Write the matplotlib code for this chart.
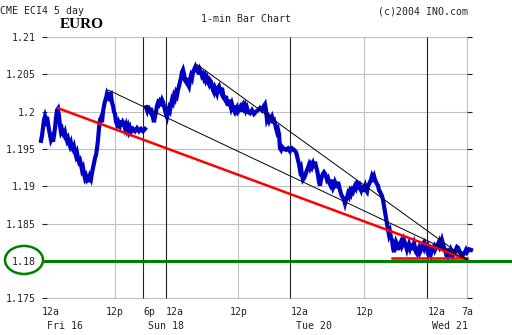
import matplotlib
matplotlib.use("Agg")
import matplotlib.pyplot as plt
from matplotlib.patches import Ellipse
import numpy as np

# ---- data (x = compressed 1-min bar position, y = EUR price) ----
seg1_x = [41,42,43,44,45,46,47,48,49,50,51,52,53,54,55,56,57,58,59,60,61,62,63,64,65,66,67,68,69,70,
          71,72,73,74,75,76,77,78,79,80,81,82,83,84,85,86,87,88,89,90,91,92,93,94,95,96,97,98,99,100,
          101,102,103,104,105,106,107,108,109,110,111,112,113,114,115,116,117,118,119,120,121,122,123,124,
          125,126,127,128,129,130,131,133,135,137,139,141,143,145]
seg1_y = [1.1961,1.1968,1.1978,1.1989,1.1994,1.1989,1.1993,1.1984,1.1976,1.1969,1.1962,1.1965,1.1960,1.1968,
          1.1978,1.1992,1.2002,1.2004,1.1994,1.1981,1.1973,1.1976,1.1970,1.1968,1.1972,1.1965,1.1961,1.1964,
          1.1958,1.1954,1.1958,1.1951,1.1949,1.1953,1.1946,1.1941,1.1945,1.1938,1.1933,1.1935,1.1929,1.1922,
          1.1925,1.1917,1.1911,1.1914,1.1909,1.1911,1.1906,1.1913,1.1910,1.1918,1.1925,1.1931,1.1938,1.1942,
          1.1951,1.1962,1.1978,1.1989,1.1992,1.1986,1.2000,1.2008,1.2014,1.2018,1.2024,1.2021,1.2026,1.2020,
          1.2022,1.2012,1.2008,1.2000,1.1997,1.1986,1.1984,1.1978,1.1985,1.1982,1.1988,1.1981,1.1986,1.1984,
          1.1978,1.1982,1.1976,1.1980,1.1974,1.1978,1.1973,1.1977,1.1974,1.1978,1.1974,1.1977,1.1974,1.1977]

seg2_x = [146,147,148,149,150,151,152,153,154,155,156,157,158,159,160,161,162,163,164,165,166,167,168,169,170,
          171,172,173,174,175,176,177,178,179,180,181,182,183,184,185,186,187,188,189,190,191,192,193,194,195,
          196,197,198,199,200,201,202,203,204,205,206,207,208,209,210,211,212,213,214,215,216,217,218,219,220,
          221,222,223,224,225,226,227,228,229,230,231,232,233,234,235,236,237,238,239,240,241,242,243,244,245,
          246,247,248,250,252,254,256,258,260,262,264,265,266,267,268,269,270,271,272,273,274,275,276,277,278,
          279,280,281,282,284,286,288,290,292,294,296,297,298,299,300,301,302,303,304,305,306,307,308,309,310,
          311,312,313,314,315,316,317,318,319,320,321,322,323,324,325,326,327,328,329,330,331,332,333,334,335,
          336,337,338,339,340,341,342,343,344,345,346,347,348,349,350,351,352,353,354,355,356,357,358,359,360,
          361,362,363,364,365,366,367,368,369,370,371,372,373,374,375,376,377,378,379,380,381,382,383,384,385,
          386,387,388,389,390,391,392,393,394,395,396,397,398,399,400,401,402,403,404,405,406,407,408,409,410,
          411,412,413,414,415,416,417,418,419,420,421,422,423,424,425,426,427,428,429,430,431,432,433,434,435,
          436,437,438,439,440,441,442,443,444,445,446,447,448,449,450,451,452,453,454,455,456,457,458,459,460,
          461,462,463,464,465,466,467,469,471]
seg2_y = [1.2006,1.2002,1.2008,1.2002,1.2000,1.2005,1.1997,1.1992,1.1986,1.1994,1.2000,1.2008,1.2012,1.2010,1.2014,
          1.2012,1.2016,1.2013,1.2008,1.2002,1.1997,1.1993,1.2000,1.2005,1.2002,1.2010,1.2016,1.2013,1.2021,1.2018,
          1.2025,1.2022,1.2029,1.2034,1.2040,1.2045,1.2053,1.2056,1.2050,1.2042,1.2040,1.2045,1.2037,1.2034,1.2042,
          1.2048,1.2045,1.2053,1.2056,1.2059,1.2053,1.2061,1.2056,1.2050,1.2056,1.2053,1.2048,1.2050,1.2045,1.2048,
          1.2042,1.2045,1.2040,1.2037,1.2042,1.2040,1.2034,1.2029,1.2026,1.2032,1.2029,1.2025,1.2032,1.2034,1.2029,
          1.2026,1.2032,1.2024,1.2018,1.2016,1.2021,1.2013,1.2008,1.2016,1.2010,1.2005,1.2010,1.2005,1.2002,1.2008,
          1.2002,1.2005,1.2000,1.2002,1.2005,1.2000,1.2008,1.2010,1.2005,1.2008,1.2002,1.2005,1.2000,1.1998,1.2002,
          1.1997,1.2000,1.2002,1.2005,1.2002,1.2008,1.2010,1.2002,1.1989,1.1992,1.1988,1.1992,1.1990,1.1993,1.1988,
          1.1989,1.1984,1.1978,1.1973,1.1976,1.1970,1.1951,1.1949,1.1953,1.1950,1.1949,1.1951,1.1947,1.1951,1.1949,
          1.1946,1.1941,1.1935,1.1930,1.1922,1.1925,1.1915,1.1909,1.1911,1.1914,1.1918,1.1922,1.1925,1.1929,1.1925,
          1.1929,1.1926,1.1930,1.1925,1.1933,1.1927,1.1922,1.1915,1.1906,1.1901,1.1909,1.1914,1.1917,1.1919,1.1917,
          1.1914,1.1909,1.1911,1.1906,1.1903,1.1909,1.1903,1.1898,1.1901,1.1906,1.1903,1.1898,1.1906,1.1901,1.1895,
          1.1890,1.1887,1.1885,1.1882,1.1877,1.1882,1.1885,1.1890,1.1887,1.1893,1.1890,1.1895,1.1893,1.1898,1.1901,
          1.1898,1.1903,1.1901,1.1906,1.1898,1.1895,1.1901,1.1893,1.1898,1.1901,1.1895,1.1893,1.1901,1.1903,1.1906,
          1.1909,1.1914,1.1911,1.1914,1.1909,1.1906,1.1903,1.1901,1.1895,1.1893,1.1890,1.1887,1.1882,1.1874,1.1866,
          1.1858,1.1850,1.1842,1.1835,1.1839,1.1831,1.1828,1.1818,1.1812,1.1820,1.1826,1.1823,1.1815,1.1820,1.1823,
          1.1826,1.1820,1.1823,1.1828,1.1824,1.1820,1.1815,1.1819,1.1823,1.1818,1.1823,1.1815,1.1820,1.1824,1.1818,
          1.1812,1.1810,1.1815,1.1818,1.1812,1.1815,1.1819,1.1822,1.1818,1.1823,1.1820,1.1815,1.1818,1.1812,1.1815,
          1.1810,1.1815,1.1818,1.1820,1.1815,1.1818,1.1820,1.1823,1.1820,1.1826,1.1823,1.1828,1.1823,1.1818,1.1815,
          1.1810,1.1812,1.1808,1.1812,1.1810,1.1815,1.1812,1.1808,1.1811,1.1812,1.1816,1.1819,1.1818,1.1815,1.1812,
          1.1810,1.1807,1.1808,1.1811,1.1812,1.1815,1.1812,1.1816,1.1815]

# trend lines (start/end points)
red_trend_x = [58.3, 467.0]
red_trend_y = [1.20046, 1.18023]
red_flat_x = [391.7, 467.0]
red_flat_y = [1.18039, 1.18039]
black1_x = [108.3, 467.0]
black1_y = [1.2029, 1.18023]
black2_x = [196.7, 467.0]
black2_y = [1.20635, 1.18023]
support_level = 1.18
support_x = [43, 512]

# axis ticks / labels
y_ticks = [1.175, 1.18, 1.185, 1.19, 1.195, 1.2, 1.205, 1.21]
y_labels = ["1.175", "1.18", "1.185", "1.19", "1.195", "1.2", "1.205", "1.21"]
time_pos = [42, 114.7, 143.3, 166, 238.3, 290.3, 364.3, 427.3, 467.3]
time_labels = ["12a", "12p", "6p", "12a", "12p", "12a", "12p", "12a", "7a"]
time_align = ["left", "center", "left", "left", "center", "left", "center", "left", "center"]
day_pos = [65, 166.5, 313.5, 450.5]
day_labels = ["Fri 16", "Sun 18", "Tue 20", "Wed 21"]
gray_vlines = [114.7, 238.3, 364.3, 467.3]
black_vlines = [143.3, 166, 290.3, 427.3]

MONO = "DejaVu Sans Mono"
TXT = "#222222"
BLUE = "#0000c4"
GREEN = "#008000"

fig = plt.figure(figsize=(5.12, 3.35), dpi=100)
fig.patch.set_facecolor("white")
ax = fig.add_axes([47/512, (335-298.5)/335, 420.3/512, 261.5/335])
ax.set_xlim(47, 467.3)
ax.set_ylim(1.175, 1.21)
for s in ax.spines.values():
    s.set_visible(False)
ax.set_facecolor("none")

ax.hlines(y_ticks, 47, 467.3, color="#c0c0c0", lw=0.8, clip_on=False, zorder=1)
ax.vlines(gray_vlines, 1.175, 1.21, color="#c0c0c0", lw=0.8, clip_on=False, zorder=1)
ax.vlines(black_vlines, 1.175, 1.21, color="#222222", lw=0.8, clip_on=False, zorder=1)

ax.set_yticks(y_ticks)
ax.set_yticklabels(y_labels, fontfamily=MONO)
ax.tick_params(axis="y", direction="out", length=3.6, width=0.8, colors=TXT,
               left=True, right=True, labelleft=True, labelright=False,
               pad=4.2, labelsize=7.1)
ax.set_xticks([])

xs = seg1_x + [np.nan] + seg2_x
ys = seg1_y + [np.nan] + seg2_y
ax.plot(xs, ys, color=BLUE, lw=3.0, solid_joinstyle="miter", clip_on=False, zorder=2)

ax.plot(red_trend_x, red_trend_y, color="#ff0000", lw=1.8, zorder=3, clip_on=False)
ax.plot(red_flat_x, red_flat_y, color="#ff0000", lw=1.8, zorder=3, clip_on=False)
ax.plot(black1_x, black1_y, color="black", lw=0.7, zorder=3, clip_on=False)
ax.plot(black2_x, black2_y, color="black", lw=0.7, zorder=3, clip_on=False)
ax.plot(support_x, [support_level]*2, color=GREEN, lw=2.2, zorder=4, clip_on=False,
        solid_capstyle="butt")
ax.add_patch(Ellipse((24, 1.18016), width=38, height=0.00375, fill=False,
                     ec=GREEN, lw=1.8, clip_on=False, zorder=4))

tr = ax.get_xaxis_transform()
for p, lab, ha in zip(time_pos, time_labels, time_align):
    fig.text(0, 0, "")
    ax.text(p, -0.05, lab, transform=tr, ha=ha, va="center", fontsize=7.1,
            family=MONO, color=TXT, clip_on=False)
for p, lab in zip(day_pos, day_labels):
    ax.text(p, -0.105, lab, transform=tr, ha="center", va="center", fontsize=7.1,
            family=MONO, color=TXT, clip_on=False)

fig.text(0/512, 1-11.5/335, "CME ECI4 5 day", ha="left", va="center",
         fontsize=7.1, family=MONO, color=TXT)
fig.text(246/512, 1-19.5/335, "1-min Bar Chart", ha="center", va="center",
         fontsize=7.1, family=MONO, color=TXT)
fig.text(468.5/512, 1-11/335, "(c)2004 INO.com", ha="right", va="center",
         fontsize=7.1, family=MONO, color=TXT)
fig.text(60/512, 1-25/335, "EURO", ha="left", va="center", fontsize=11,
         family="Liberation Serif", fontweight="bold", color="black")

fig.savefig("out.png", dpi=100, facecolor="white")
